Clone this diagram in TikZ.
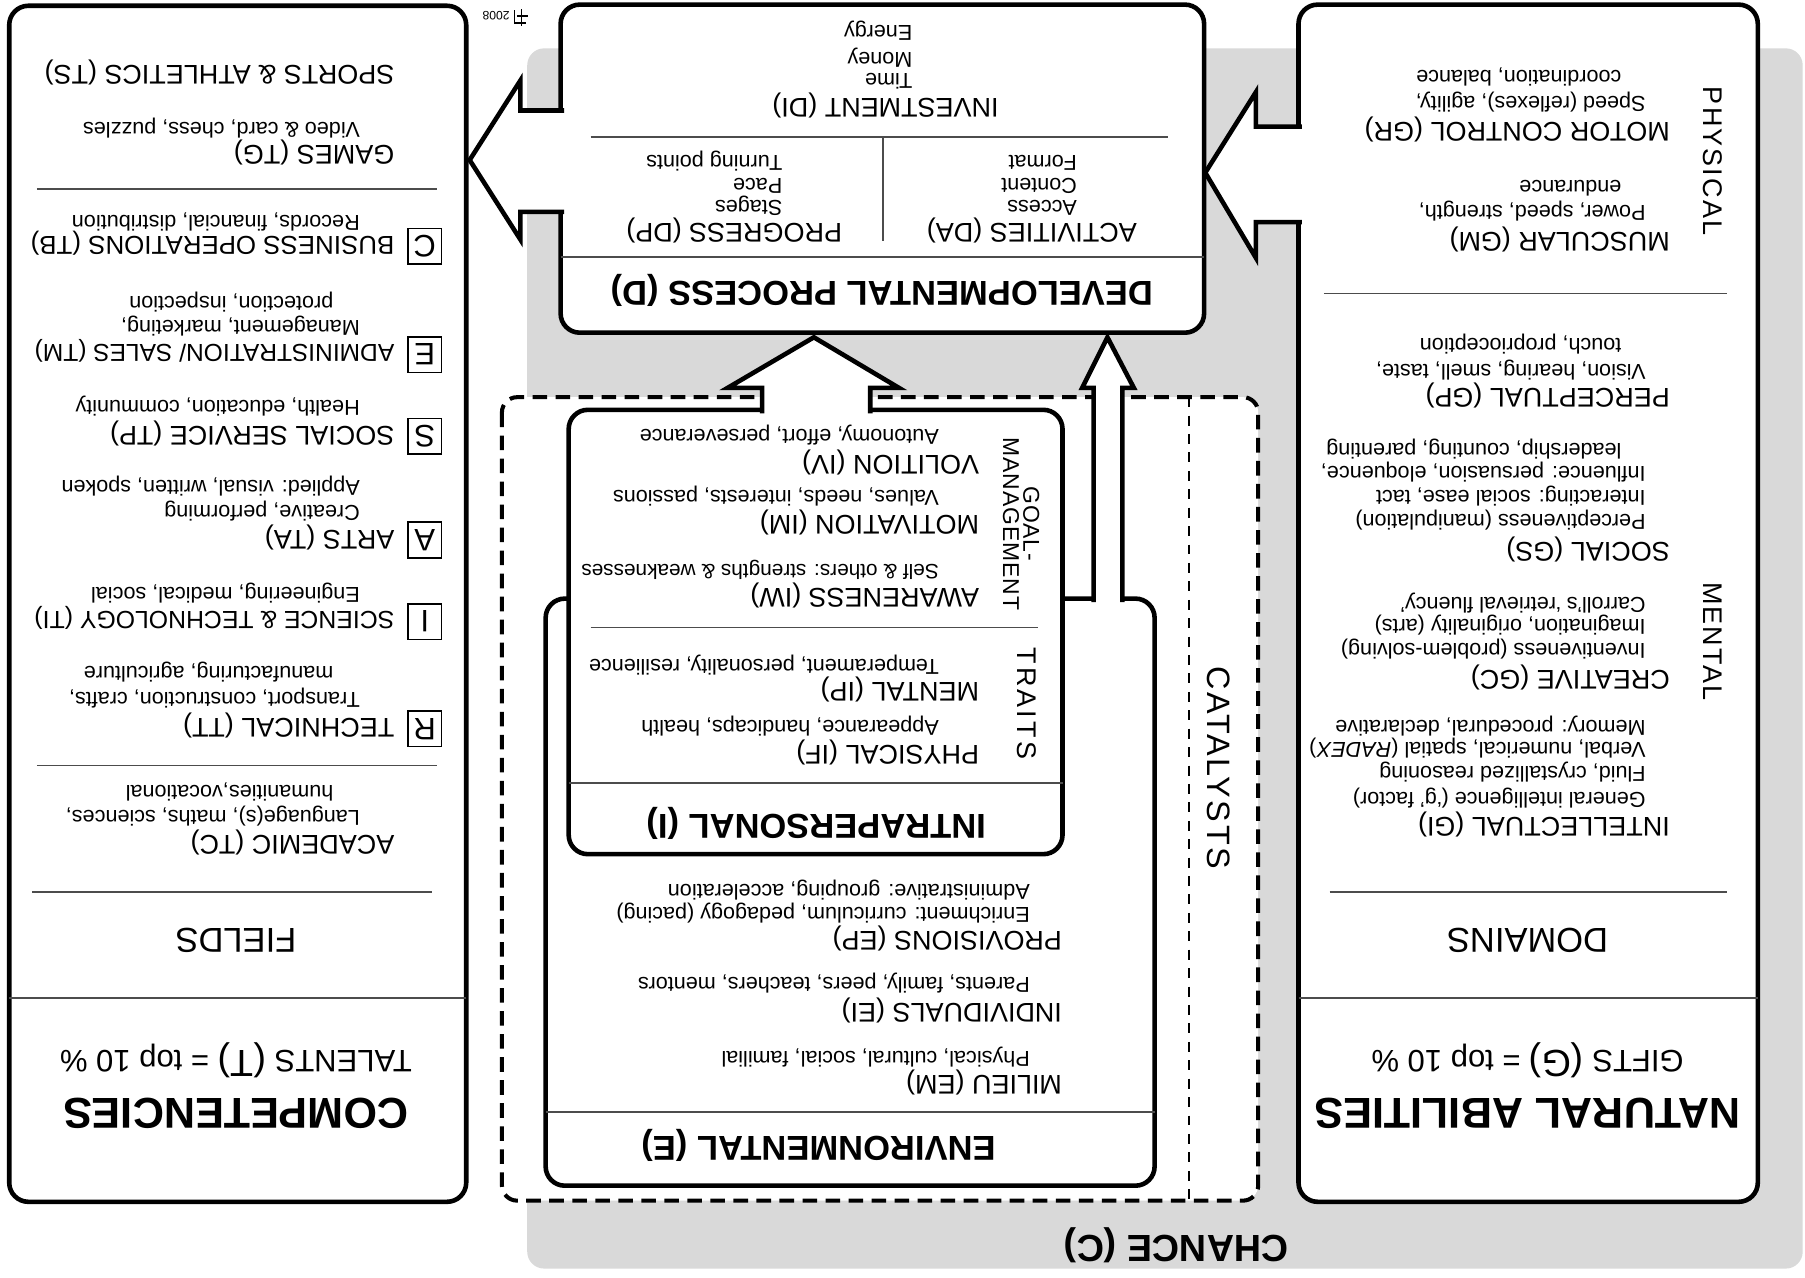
\documentclass[tikz,border=0pt]{standalone}
\usepackage{fontspec}
\setmainfont{Liberation Sans}
\tikzset{
  box/.style={draw, fill=white, line width=1.7pt, rounded corners=2.5mm},
  sepline/.style={line width=0.6pt, black!70},
  blockarrow/.style={draw, fill=white, line width=1.7pt, line join=miter},
  heading/.style={rotate=180, anchor=west, inner sep=0pt, text height=7.2pt, text depth=0pt, font=\fontsize{10}{12}\selectfont},
  detail/.style={rotate=180, anchor=west, inner sep=0pt, text height=5.8pt, text depth=0pt, font=\fontsize{8}{9.6}\selectfont},
  letterbox/.style={rotate=180, draw, line width=0.6pt, inner sep=0pt, minimum width=4.35mm, minimum height=4.65mm, font=\fontsize{11.5}{12}\selectfont},
  sidelabel/.style={rotate=-90, inner sep=0pt, font=\fontsize{10}{10}\selectfont\addfontfeatures{LetterSpace=8}},
  sectitle/.style={rotate=180, inner sep=0pt, font=\bfseries\fontsize{12.8}{15}\selectfont},
  bigtitle/.style={rotate=180, inner sep=0pt, font=\bfseries\fontsize{16}{19}\selectfont},
  colhead/.style={rotate=180, inner sep=0pt, font=\fontsize{12.8}{15}\selectfont},
  toppct/.style={rotate=180, inner sep=0pt, font=\fontsize{11.5}{14}\selectfont},
}
\begin{document}
\begin{tikzpicture}[x=0.15mm, y=-0.15mm]
\useasboundingbox (0,0) rectangle (1568,1110);
\fill[black!15, rounded corners=2.2mm] (458,42) rectangle (1566,1102);
\draw[box] (8,5) rectangle (405,1044);
\draw[box] (1128,4) rectangle (1527,1044);
\draw[box] (487,4) rectangle (1046,289);
\draw[fill=white, line width=1.5pt, dash pattern=on 1.9mm off 1.1mm, rounded corners=2mm] (436,345) rectangle (1093,1043);
\draw[line width=0.9pt, dash pattern=on 1.3mm off 1.1mm] (1033,345) -- (1033,1043);
\draw[box] (474,520) rectangle (1003,1030);
\draw[box] (494,356) rectangle (923,742);
\filldraw[blockarrow] (490,96) -- (452,96) -- (452,70) -- (408,139) -- (452,208) -- (452,184) -- (490,184);
\filldraw[blockarrow] (1131,110) -- (1091,110) -- (1091,80) -- (1047,150) -- (1091,224) -- (1091,193) -- (1131,193);
\filldraw[blockarrow] (662,359) -- (662,337) -- (632,337) -- (707,293) -- (781,337) -- (756,337) -- (756,359);
\filldraw[blockarrow] (950,523) -- (950,337) -- (940,337) -- (962,293) -- (985,337) -- (975,337) -- (975,523);
\draw[sepline] (8,867) -- (405,867);
\draw[sepline] (28,775) -- (375,775);
\draw[sepline] (32,665) -- (380,665);
\draw[sepline] (32,164) -- (380,164);
\draw[sepline] (1128,867) -- (1527,867);
\draw[sepline] (1155,775) -- (1500,775);
\draw[sepline] (1150,255) -- (1500,255);
\draw[sepline] (487,223) -- (1046,223);
\draw[sepline] (513,119) -- (1015,119);
\draw[sepline] (767,120) -- (767,209);
\draw[sepline] (494,680) -- (923,680);
\draw[sepline] (513,545) -- (902,545);
\draw[sepline] (474,966) -- (1003,966);
\node[bigtitle] (comp) at (205,967) {COMPETENCIES};
\node[toppct] (talents) at (205,921) {TALENTS {\fontsize{14}{14}\selectfont(T)} = top 10 \%};
\node[colhead] (fields) at (205,817) {FIELDS};
\node[heading] (tc) at (343,734) {ACADEMIC (TC)};
\node[detail] (tc1) at (313,711) {Language(s), maths, sciences,};
\node[detail] (tc2) at (290,689) {humanities,vocational};
\node[heading] (tt) at (343,633) {TECHNICAL (TT)};
\node[letterbox] (r) at (369,633) {R};
\node[detail] (tt1) at (313,608) {Transport, construction, crafts,};
\node[detail] (tt2) at (290,586) {manufacturing, agriculture};
\node[heading, font=\fontsize{9.2}{11}\selectfont] (ti) at (343,540) {SCIENCE \& TECHNOLOGY (TI)};
\node[letterbox] (i) at (369,540) {I};
\node[detail] (ti1) at (313,517) {Engineering, medical, social};
\node[heading] (tart) at (343,469) {ARTS (TA)};
\node[letterbox] (a) at (369,469) {A};
\node[detail] (tart1) at (313,446) {Creative, performing};
\node[detail] (tart2) at (313,424) {Applied: visual, written, spoken};
\node[heading] (tp) at (343,379) {SOCIAL SERVICE (TP)};
\node[letterbox] (s) at (369,379) {S};
\node[detail] (tp1) at (313,355) {Health, education, community};
\node[heading, font=\fontsize{9.1}{11}\selectfont] (tm) at (343,308) {ADMINISTRATION/ SALES (TM)};
\node[letterbox] (e) at (369,308) {E};
\node[detail] (tm1) at (313,285) {Management, marketing,};
\node[detail] (tm2) at (290,264) {protection, inspection};
\node[heading, font=\fontsize{9.6}{11}\selectfont] (tb) at (343,214) {BUSINESS OPERATIONS (TB)};
\node[letterbox] (c) at (369,214) {C};
\node[detail] (tb1) at (313,194) {Records, financial, distribution};
\node[heading] (tg) at (343,135) {GAMES (TG)};
\node[detail] (tg1) at (313,113) {Video \& card, chess, puzzles};
\node[heading] (ts) at (343,65) {SPORTS \& ATHLETICS (TS)};
\node[bigtitle] (nat) at (1327,967) {NATURAL ABILITIES};
\node[toppct] (gifts) at (1327,921) {GIFTS {\fontsize{14}{14}\selectfont(G)} = top 10 \%};
\node[colhead] (domains) at (1327,817) {DOMAINS};
\node[heading] (gi) at (1451,719) {INTELLECTUAL (GI)};
\node[detail] (gi1) at (1430,695) {General intelligence (`g' factor)};
\node[detail] (gi2) at (1430,673) {Fluid, crystallized reasoning};
\node[detail] (gi3) at (1430,652) {Verbal, numerical, spatial (\textit{RADEX})};
\node[detail] (gi4) at (1430,633) {Memory: procedural, declarative};
\node[heading] (gc) at (1451,591) {CREATIVE (GC)};
\node[detail] (gc1) at (1430,566) {Inventiveness (problem-solving)};
\node[detail] (gc2) at (1430,545) {Imagination, originality (arts)};
\node[detail] (gc3) at (1430,526) {Carroll's `retrieval fluency'};
\node[heading] (gs) at (1451,480) {SOCIAL (GS)};
\node[detail] (gs1) at (1430,454) {Perceptiveness (manipulation)};
\node[detail] (gs2) at (1430,433) {Interacting: social ease, tact};
\node[detail] (gs3) at (1430,412) {Influence: persuasion, eloquence,};
\node[detail] (gs4) at (1409,392) {leadership, counting, parenting};
\node[heading] (gp) at (1451,346) {PERCEPTUAL (GP)};
\node[detail] (gp1) at (1430,323) {Vision, hearing, smell, taste,};
\node[detail] (gp2) at (1409,301) {touch, proprioception};
\node[heading] (gm) at (1451,210) {MUSCULAR (GM)};
\node[detail] (gm1) at (1430,185) {Power, speed, strength,};
\node[detail] (gm2) at (1409,164) {endurance};
\node[heading] (gr) at (1451,115) {MOTOR CONTROL (GR)};
\node[detail] (gr1) at (1430,91) {Speed (reflexes), agility,};
\node[detail] (gr2) at (1409,68) {coordination, balance};
\node[sidelabel] (physical) at (1488,140) {PHYSICAL};
\node[sidelabel] (mental) at (1488,557) {MENTAL};
\node[sectitle] (dev) at (766,252) {DEVELOPMENTAL PROCESS (D)};
\node[heading] (da) at (988,203) {ACTIVITIES (DA)};
\node[detail] (da1) at (936,181) {Access};
\node[detail] (da2) at (936,162) {Content};
\node[detail] (da3) at (936,142) {Format};
\node[heading] (dp) at (732,203) {PROGRESS (DP)};
\node[detail] (dp1) at (680,181) {Stages};
\node[detail] (dp2) at (680,162) {Pace};
\node[detail] (dp3) at (680,142) {Turning points};
\node[heading] (di) at (868,94) {INVESTMENT (DI)};
\node[detail] (di1) at (793,71) {Time};
\node[detail] (di2) at (793,52) {Money};
\node[detail] (di3) at (793,29) {Energy};
\node[sectitle] (intra) at (709,715) {INTRAPERSONAL (I)};
\node[heading] (if) at (851,656) {PHYSICAL (IF)};
\node[detail] (if1) at (816,633) {Appearance, handicaps, health};
\node[heading] (ip) at (851,601) {MENTAL (IP)};
\node[detail] (ip1) at (816,580) {Temperament, personality, resilience};
\node[heading] (iw) at (851,520) {AWARENESS (IW)};
\node[detail, font=\fontsize{7.7}{9}\selectfont] (iw1) at (816,497) {Self \& others: strengths \& weaknesses};
\node[heading] (im) at (851,456) {MOTIVATION (IM)};
\node[detail] (im1) at (816,433) {Values, needs, interests, passions};
\node[heading] (iv) at (851,404) {VOLITION (IV)};
\node[detail] (iv1) at (816,380) {Autonomy, effort, perseverance};
\node[sidelabel, font=\fontsize{10}{10}\selectfont\addfontfeatures{LetterSpace=12}] (traits) at (892,611) {TRAITS};
\node[sidelabel, align=center, font=\fontsize{8.5}{7.5}\selectfont\addfontfeatures{LetterSpace=4}] (goal) at (887,455) {GOAL-\\MANAGEMENT};
\node[sectitle] (env) at (711,995) {ENVIRONMENTAL (E)};
\node[heading] (em) at (923,943) {MILIEU (EM)};
\node[detail] (em1) at (895,920) {Physical, cultural, social, familial};
\node[heading] (ei) at (923,880) {INDIVIDUALS (EI)};
\node[detail] (ei1) at (895,856) {Parents, family, peers, teachers, mentors};
\node[heading] (ep) at (923,818) {PROVISIONS (EP)};
\node[detail] (ep1) at (895,795) {Enrichment: curriculum, pedagogy (pacing)};
\node[detail] (ep2) at (895,775) {Administrative: grouping, acceleration};
\node[sidelabel, font=\fontsize{12}{12}\selectfont\addfontfeatures{LetterSpace=8}] (cat) at (1059,667) {CATALYSTS};
\node[rotate=180, inner sep=0pt, font=\bfseries\fontsize{14}{16}\selectfont] (chance) at (1022,1082) {CHANCE (C)};
\node[rotate=180, inner sep=0pt, font=\fontsize{4.5}{5}\selectfont] (year) at (431,14) {2008};
\draw[line width=0.5pt] (447,9) -- (447,20) -- (457,20);
\draw[line width=0.5pt] (449,14) -- (459,14);
\draw[line width=0.5pt] (453,8) -- (453,23);
\end{tikzpicture}
\end{document}
